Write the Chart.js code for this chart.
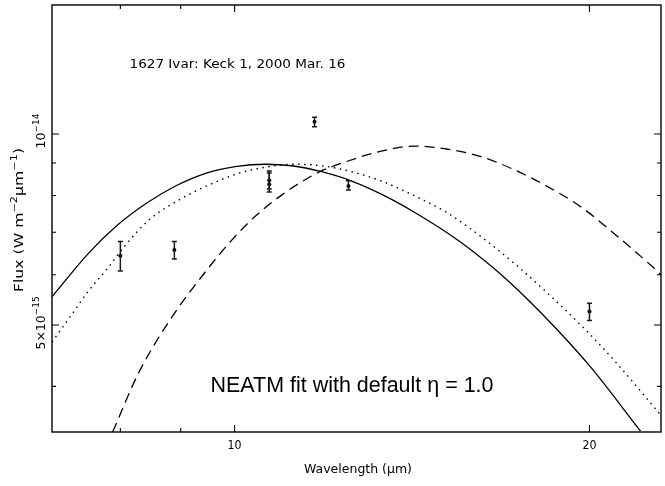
<!DOCTYPE html>
<html><head><meta charset="utf-8">
<script src="https://cdn.jsdelivr.net/npm/chart.js@4"></script>
<style>html,body{margin:0;padding:0;background:#fff}canvas{display:block}</style>
</head><body>
<canvas id="c" width="665" height="486"></canvas>
<script>
// Flux values in units of 1e-15 W m^-2 um^-1, wavelength in um
const solidWavelength = [7.0,7.52,7.96,8.43,8.91,9.45,10.01,10.62,11.18,11.85,12.57,13.37,14.22,15.47,16.61,17.7,18.79,20.05,22.1];
const solidFlux       = [5.54,6.49,7.19,7.79,8.28,8.67,8.88,8.96,8.91,8.72,8.43,8.01,7.52,6.80,6.13,5.50,4.91,4.29,3.40];

const dottedWavelength = [7.0,7.29,7.53,7.78,8.08,8.46,8.97,9.51,10.08,10.68,11.18,11.85,12.57,13.32,14.13,15.17,16.18,17.27,18.43,19.66,20.98,23.0];
const dottedFlux       = [4.70,5.22,5.68,6.10,6.68,7.32,7.87,8.31,8.67,8.88,8.96,8.91,8.72,8.43,8.03,7.50,6.89,6.25,5.61,5.00,4.40,3.60];

const dashedWavelength = [7.88,8.29,8.85,9.45,9.95,10.44,10.96,11.32,11.81,12.32,13.32,14.22,15.17,16.18,17.27,18.43,19.66,20.98,22.61,23.0];
const dashedFlux       = [3.39,4.20,5.15,6.07,6.81,7.45,8.01,8.34,8.72,8.99,9.40,9.57,9.46,9.21,8.78,8.26,7.68,6.97,6.18,6.00];

const obsWavelength = [8.0,8.89,10.7,10.7,11.69,12.49,20.0];
const obsFlux       = [6.43,6.56,8.45,8.33,10.45,8.28,5.25];
const obsFluxLow    = [6.08,6.35,8.19,8.10,10.27,8.16,5.08];
const obsFluxHigh   = [6.77,6.77,8.74,8.68,10.63,8.44,5.41];

const xMajorTicks = [10,20];
const xMinorTicks = [8,9];
const xTickLabels = ['10','20'];
const yMajorTicks = [5,10];
const yMinorTicks = [4,6,7,8,9];

const toXY = (xa, ya) => xa.map((x,i)=>({x, y: ya[i]}));

function drawRuns(ctx, runs, baseSize, family, targetWidth, align){
  let widths = runs.map(r=>{
    ctx.font = (r.sup ? baseSize*0.72 : baseSize) + 'px ' + family;
    return ctx.measureText(r.t).width;
  });
  const W = widths.reduce((a,b)=>a+b,0);
  const sx = targetWidth ? targetWidth / W : 1;
  ctx.save();
  if (align === 'center') ctx.translate(-W*sx/2, 0);
  ctx.scale(sx, 1);
  let x = 0;
  runs.forEach((r,i)=>{
    ctx.font = (r.sup ? baseSize*0.72 : baseSize) + 'px ' + family;
    ctx.fillText(r.t, x, r.sup ? -baseSize*0.48 : 0);
    x += widths[i];
  });
  ctx.restore();
}

const decor = {
  id: 'decor',
  afterDatasetsDraw(chart){
    const ctx = chart.ctx, xs = chart.scales.x, ys = chart.scales.y;
    ctx.save();
    ctx.strokeStyle = '#1a1a1a'; ctx.lineWidth = 1.5;
    obsWavelength.forEach((w,i)=>{
      const px = xs.getPixelForValue(w);
      const y1 = ys.getPixelForValue(obsFluxLow[i]);
      const y2 = ys.getPixelForValue(obsFluxHigh[i]);
      ctx.beginPath();
      ctx.moveTo(px, y1); ctx.lineTo(px, y2);
      ctx.moveTo(px-2.5, y1); ctx.lineTo(px+2.5, y1);
      ctx.moveTo(px-2.5, y2); ctx.lineTo(px+2.5, y2);
      ctx.stroke();
    });
    ctx.restore();
  },
  afterDraw(chart){
    const ctx = chart.ctx, xs = chart.scales.x, ys = chart.scales.y, a = chart.chartArea;
    ctx.save();
    ctx.strokeStyle = '#000'; ctx.lineWidth = 1.4;
    ctx.strokeRect(a.left, a.top, a.right - a.left, a.bottom - a.top);
    ctx.lineWidth = 1.1;
    ctx.beginPath();
    const xt = (v, len) => { const p = xs.getPixelForValue(v);
      ctx.moveTo(p, a.bottom); ctx.lineTo(p, a.bottom - len);
      ctx.moveTo(p, a.top); ctx.lineTo(p, a.top + len); };
    const yt = (v, len) => { const p = ys.getPixelForValue(v);
      ctx.moveTo(a.left, p); ctx.lineTo(a.left + len, p);
      ctx.moveTo(a.right, p); ctx.lineTo(a.right - len, p); };
    xMajorTicks.forEach(v=>xt(v,7)); xMinorTicks.forEach(v=>xt(v,4));
    yMajorTicks.forEach(v=>yt(v,7)); yMinorTicks.forEach(v=>yt(v,4));
    ctx.stroke();

    ctx.fillStyle = '#000';
    ctx.textBaseline = 'alphabetic';
    const fam = '"DejaVu Sans", sans-serif';
    xMajorTicks.forEach((v,i)=>{
      ctx.save(); ctx.translate(xs.getPixelForValue(v), 449);
      drawRuns(ctx, [{t:xTickLabels[i]}], 13, fam, 14, 'center');
      ctx.restore();
    });
    const yLab = [
      {v:10, runs:[{t:'10'},{t:'\u221214',sup:true}], w:35, off:-3},
      {v:5,  runs:[{t:'5\u00d710'},{t:'\u221215',sup:true}], w:53, off:-2}
    ];
    yLab.forEach(L=>{
      ctx.save(); ctx.translate(45, ys.getPixelForValue(L.v) + L.off); ctx.rotate(-Math.PI/2);
      drawRuns(ctx, L.runs, 13, fam, L.w, 'center');
      ctx.restore();
    });
    ctx.save(); ctx.translate(358, 473);
    drawRuns(ctx, [{t:'Wavelength (\u03bcm)'}], 12.5, fam, 108, 'center');
    ctx.restore();
    ctx.save(); ctx.translate(23, 220); ctx.rotate(-Math.PI/2);
    drawRuns(ctx, [{t:'Flux (W m'},{t:'\u22122',sup:true},{t:'\u03bcm'},{t:'\u22121',sup:true},{t:')'}], 12.5, fam, 144, 'center');
    ctx.restore();
    ctx.save(); ctx.translate(129.5, 68.3);
    drawRuns(ctx, [{t:'1627 Ivar: Keck 1, 2000 Mar. 16'}], 13, fam, 216, 'left');
    ctx.restore();
    ctx.save(); ctx.translate(210.5, 391.5);
    drawRuns(ctx, [{t:'NEATM fit with default \u03b7 = 1.0'}], 22, '"Liberation Sans", Arial, sans-serif', 283, 'left');
    ctx.restore();
    ctx.restore();
  }
};

new Chart(document.getElementById('c'), {
  type: 'scatter',
  data: { datasets: [
    { label:'NEATM', data: toXY(solidWavelength, solidFlux), showLine:true, borderColor:'#000', borderWidth:1.3, pointRadius:0, cubicInterpolationMode:'monotone', fill:false },
    { label:'dotted', data: toXY(dottedWavelength, dottedFlux), showLine:true, borderColor:'#000', borderWidth:1.4, borderDash:[1.5,4.5], pointRadius:0, cubicInterpolationMode:'monotone', fill:false },
    { label:'dashed', data: toXY(dashedWavelength, dashedFlux), showLine:true, borderColor:'#000', borderWidth:1.3, borderDash:[10,6], pointRadius:0, cubicInterpolationMode:'monotone', fill:false },
    { label:'obs', data: toXY(obsWavelength, obsFlux), showLine:false, pointRadius:2, pointBackgroundColor:'#000', pointBorderColor:'#000', pointBorderWidth:0 }
  ]},
  options: {
    responsive:false, animation:false,
    layout:{ padding:{ left:52, top:5, right:2, bottom:54 } },
    plugins:{ legend:{display:false}, tooltip:{enabled:false} },
    scales:{
      x:{ type:'logarithmic', min:7, max:23, display:false },
      y:{ type:'logarithmic', min:3.39, max:15.97, display:false }
    }
  },
  plugins:[decor]
});
</script>
</body></html>
